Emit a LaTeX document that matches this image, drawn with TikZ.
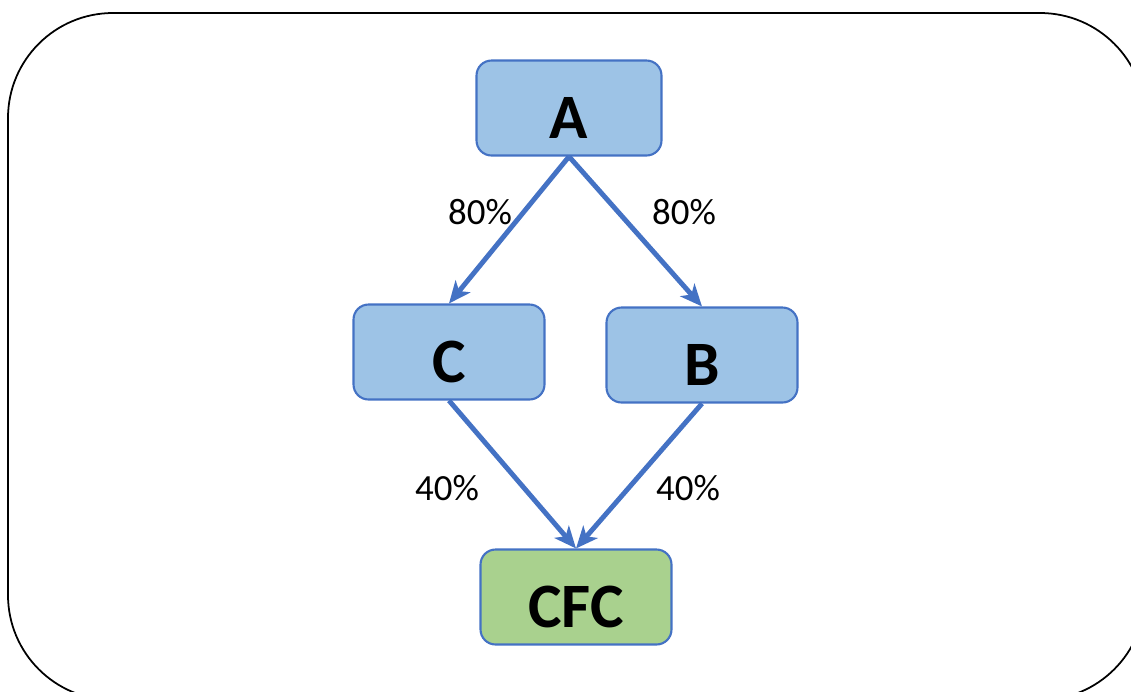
\documentclass[tikz,border=0pt]{standalone}
\usepackage{fontspec}
\setmainfont{Carlito}
\usetikzlibrary{arrows.meta}
\definecolor{boxblue}{HTML}{9DC3E6}
\definecolor{boxgreen}{HTML}{A9D18E}
\definecolor{lineblue}{HTML}{4472C4}
\begin{document}
\begin{tikzpicture}[x=0.02cm,y=-0.02cm,
  unit/.style={draw=lineblue,line width=1.2pt,rounded corners=0.3cm,
    minimum height=1.9cm,text height=1.2cm,text depth=0cm,
    font=\fontsize{36}{40}\selectfont\bfseries},
  flow/.style={draw=lineblue,line width=2.8pt,-{Stealth[length=0.44cm,width=0.38cm,inset=0.12cm]}},
  share/.style={font=\fontsize{21}{24}\selectfont}]
\clip (0,0) rectangle (1131,691);
%frame
\draw[line width=1pt,rounded corners=2.1cm] (8,13) rectangle (1145,700);
%units
\node[unit,fill=boxblue,minimum width=3.7cm]  (A)   at (569,108) {A};
\node[unit,fill=boxblue,minimum width=3.82cm] (C)   at (449,352) {C};
\node[unit,fill=boxblue,minimum width=3.82cm] (B)   at (702,355) {B};
\node[unit,fill=boxgreen,minimum width=3.82cm] (CFC) at (576,597) {CFC};
% links
\draw[flow] (A.south) -- (C.north);
\draw[flow] (A.south) -- (B.north);
\draw[flow] (C.south) -- (CFC.north);
\draw[flow] (B.south) -- (CFC.north);
% shares
\node[share] (ac)  at (480,212) {80\%};
\node[share] (ab)  at (684,212) {80\%};
\node[share] (cc)  at (447,488) {40\%};
\node[share] (bc)  at (688,488) {40\%};
\end{tikzpicture}
\end{document}
